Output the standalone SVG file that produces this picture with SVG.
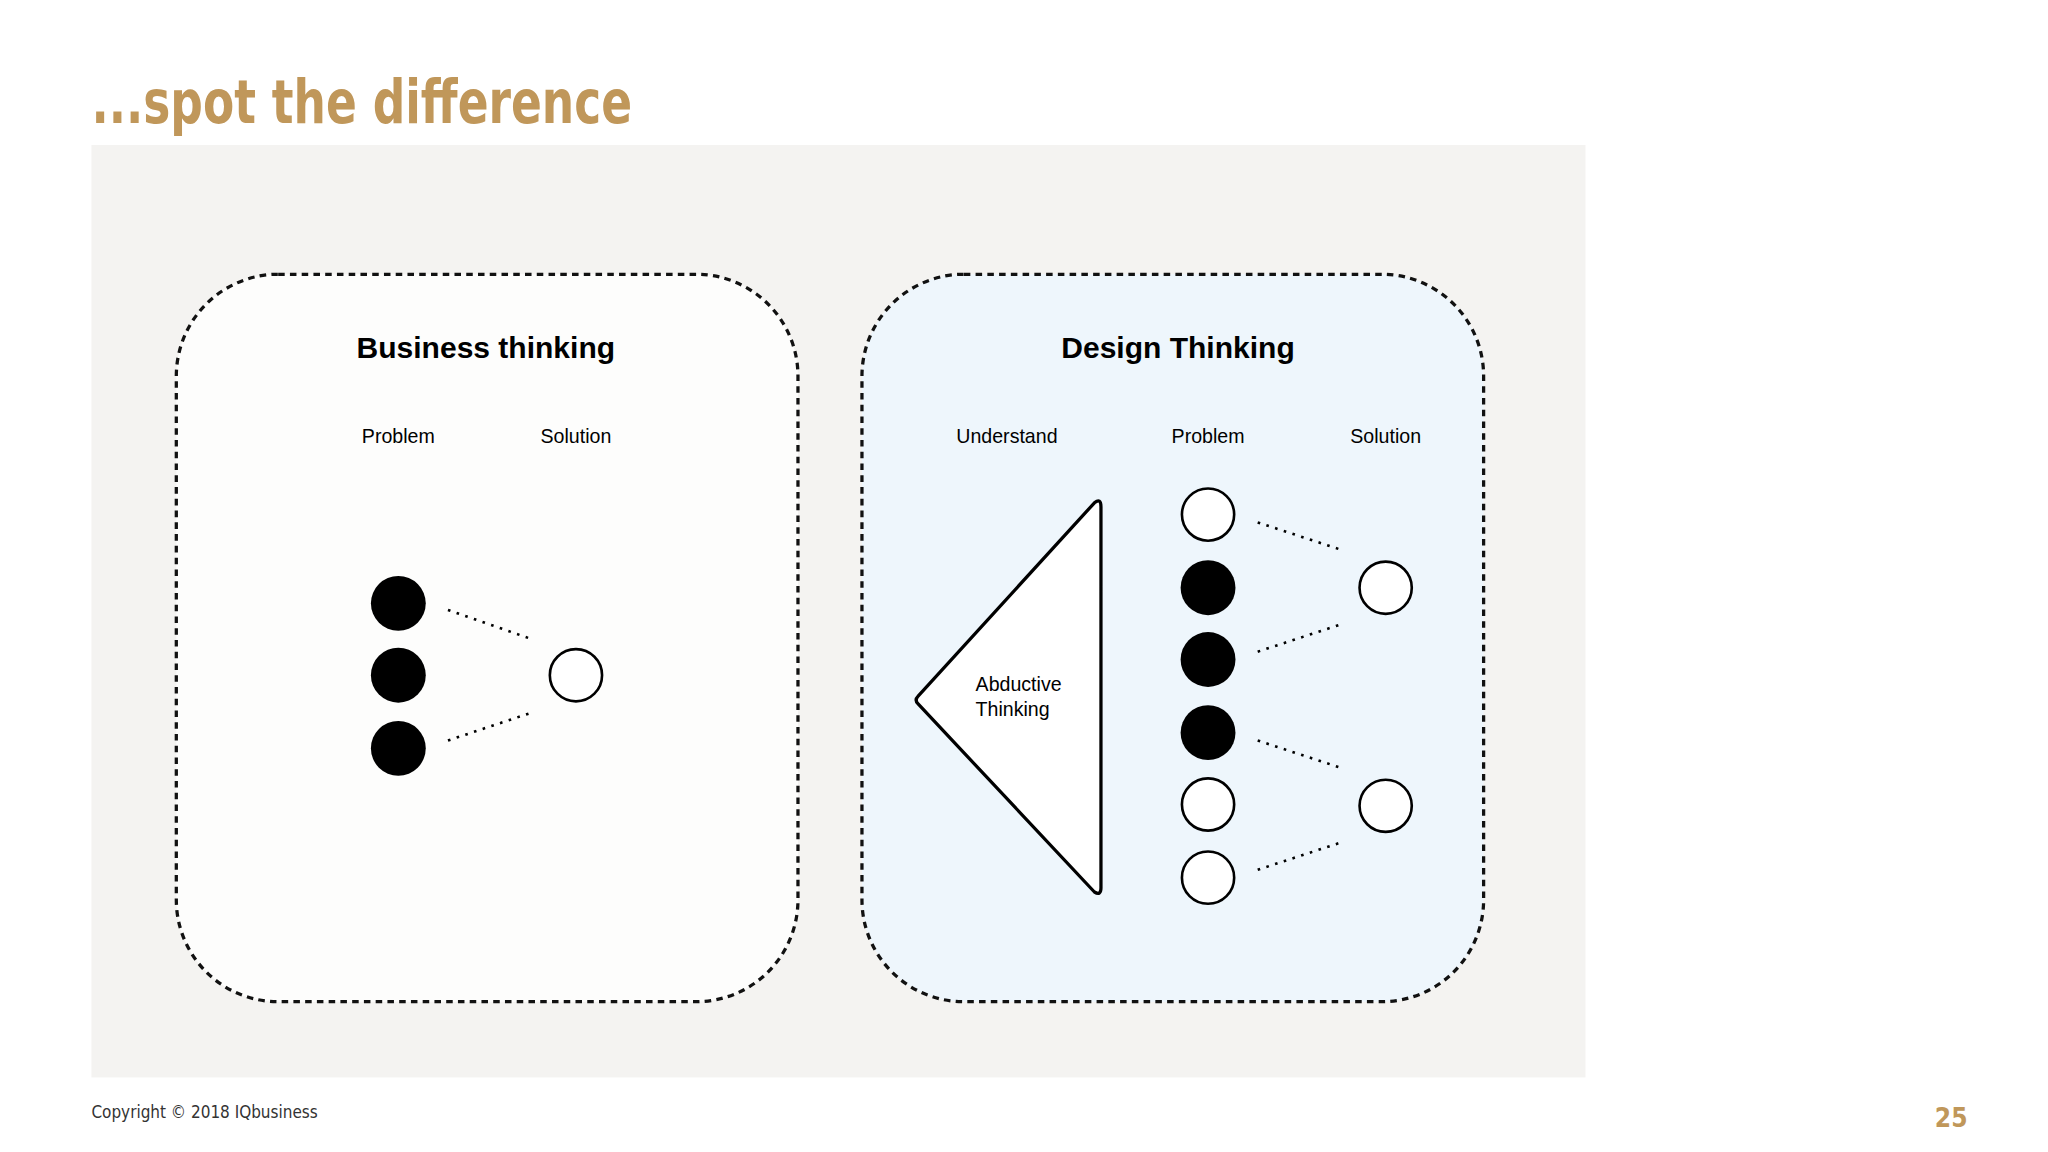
<svg xmlns="http://www.w3.org/2000/svg" width="2048" height="1152" viewBox="0 0 2048 1152">
<style>
.box{stroke:#111;stroke-width:2.5;stroke-dasharray:5 4}
.h{font-family:"Liberation Sans",Arial,sans-serif;font-weight:bold;font-size:23px;text-anchor:middle;fill:#000}
.l{font-family:"Liberation Sans",Arial,sans-serif;font-size:15px;text-anchor:middle;fill:#000}
.b{fill:#000}
.w{fill:#fff;stroke:#000;stroke-width:2}
.d{stroke:#000;stroke-width:2;stroke-dasharray:2 5;fill:none}
</style>
<rect width="2048" height="1152" fill="#fff"/>
<g transform="scale(1.306)">
<text x="70" y="94" font-family="DejaVu Sans Condensed,DejaVu Sans,sans-serif" font-weight="bold" font-size="46" fill="#C0975A" textLength="414" lengthAdjust="spacingAndGlyphs">...spot the difference</text>
<rect x="70" y="111" width="1144" height="714" fill="#f4f3f1"/>
<g id="business">
<rect class="box" x="135" y="210" width="476" height="557" rx="78" fill="#fdfdfc"/>
<text class="h" x="372" y="274">Business thinking</text>
<text class="l" x="305" y="339">Problem</text>
<text class="l" x="441" y="339">Solution</text>
<circle class="b" cx="305" cy="462" r="21"/>
<circle class="b" cx="305" cy="517" r="21"/>
<circle class="b" cx="305" cy="573" r="21"/>
<circle class="w" cx="441" cy="517" r="20"/>
</g>
<g id="design">
<rect class="box" x="660" y="210" width="476" height="557" rx="78" fill="#eef6fc"/>
<text class="h" x="902" y="274">Design Thinking</text>
<text class="l" x="771" y="339">Understand</text>
<text class="l" x="925" y="339">Problem</text>
<text class="l" x="1061" y="339">Solution</text>
<path d="M838 385 L703 533 Q700 536 703 539 L838 683 Q843 686 843 680 L843 388 Q843 381 838 385 Z" fill="#fff" stroke="#000" stroke-width="2.5" stroke-linejoin="round"/>
<text font-family="Liberation Sans,Arial,sans-serif" font-size="15" x="747" y="529">Abductive</text>
<text font-family="Liberation Sans,Arial,sans-serif" font-size="15" x="747" y="548">Thinking</text>
<circle class="w" cx="925" cy="394" r="20"/>
<circle class="b" cx="925" cy="450" r="21"/>
<circle class="b" cx="925" cy="505" r="21"/>
<circle class="b" cx="925" cy="561" r="21"/>
<circle class="w" cx="925" cy="616" r="20"/>
<circle class="w" cx="925" cy="672" r="20"/>
<circle class="w" cx="1061" cy="450" r="20"/>
<circle class="w" cx="1061" cy="617" r="20"/>
</g>
<g id="connectors">
<path class="d" d="M343 467 L406 489 M343 567 L406 546 M963 400 L1027 421 M963 499 L1027 478 M963 567 L1027 588 M963 666 L1027 645"/>
</g>
<text x="70" y="856" font-family="DejaVu Sans Condensed,DejaVu Sans,sans-serif" font-size="13" fill="#333">Copyright ©  2018 IQbusiness</text>
<text x="1494" y="863" text-anchor="middle" font-family="DejaVu Sans Condensed,DejaVu Sans,sans-serif" font-weight="bold" font-size="20" fill="#C0975A">25</text>
</g>
</svg>
